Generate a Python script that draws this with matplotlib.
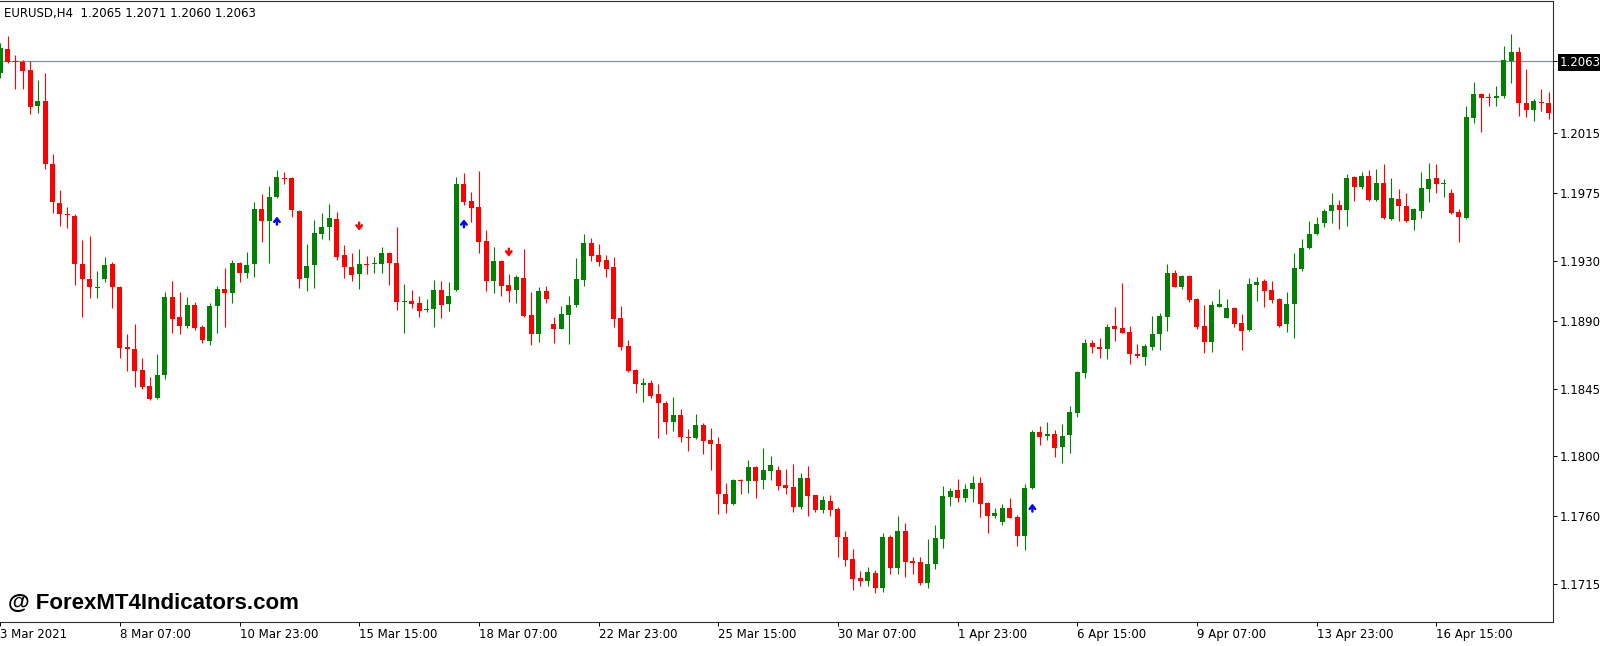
import matplotlib
matplotlib.use('Agg')
import matplotlib.pyplot as plt
import numpy as np

# EURUSD H4 candles (oldest first)
opens = [
    1.20548, 1.20710, 1.20626, 1.20626, 1.20570, 1.20331, 1.20364, 1.19945,
    1.19685, 1.19612, 1.19601, 1.19279, 1.19182, 1.19122, 1.19180, 1.19277,
    1.19126, 1.18727, 1.18714, 1.18574, 1.18468, 1.18388, 1.18543, 1.19060,
    1.18929, 1.18867, 1.19006, 1.18860, 1.18767, 1.19000, 1.19111, 1.19084,
    1.19284, 1.19222, 1.19277, 1.19643, 1.19568, 1.19727, 1.19851, 1.19854,
    1.19634, 1.19184, 1.19273, 1.19477, 1.19528, 1.19579, 1.19337, 1.19261,
    1.19210, 1.19279, 1.19277, 1.19277, 1.19355, 1.19288, 1.19026, 1.19033,
    1.19018, 1.18975, 1.18980, 1.19106, 1.19011, 1.19104, 1.19812, 1.19698,
    1.19656, 1.19432, 1.19168, 1.19299, 1.19140, 1.19104, 1.19188, 1.18940,
    1.18814, 1.19100, 1.18878, 1.18849, 1.18940, 1.19004, 1.19173, 1.19421,
    1.19339, 1.19306, 1.19257, 1.18918, 1.18734, 1.18574, 1.18476, 1.18490,
    1.18414, 1.18357, 1.18226, 1.18275, 1.18126, 1.18119, 1.18208, 1.18108,
    1.18081, 1.17747, 1.17682, 1.17842, 1.17835, 1.17926, 1.17842, 1.17904,
    1.17909, 1.17809, 1.17793, 1.17665, 1.17857, 1.17740, 1.17642, 1.17704,
    1.17649, 1.17465, 1.17316, 1.17190, 1.17172, 1.17221, 1.17123, 1.17465,
    1.17259, 1.17503, 1.17303, 1.17294, 1.17154, 1.17283, 1.17449, 1.17731,
    1.17775, 1.17720, 1.17780, 1.17820, 1.17687, 1.17605, 1.17565, 1.17653,
    1.17598, 1.17469, 1.17787, 1.18159, 1.18137, 1.18146, 1.18059, 1.18141,
    1.18290, 1.18556, 1.18751, 1.18725, 1.18714, 1.18867, 1.18851, 1.18829,
    1.18678, 1.18663, 1.18729, 1.18813, 1.18924, 1.19217, 1.19128, 1.19199,
    1.19046, 1.18867, 1.18762, 1.18995, 1.18922, 1.18984, 1.18884, 1.18840,
    1.19139, 1.19166, 1.19106, 1.19046, 1.18880, 1.19011, 1.19246, 1.19384,
    1.19479, 1.19550, 1.19634, 1.19672, 1.19639, 1.19860, 1.19794, 1.19867,
    1.19705, 1.19816, 1.19579, 1.19710, 1.19667, 1.19572, 1.19634, 1.19778,
    1.19849, 1.19809, 1.19750, 1.19628, 1.19583, 1.20253, 1.20408, 1.20388,
    1.20382, 1.20397, 1.20632, 1.20692, 1.20353, 1.20304, 1.20357, 1.20353,
]
highs = [
    1.20750, 1.20796, 1.20670, 1.20637, 1.20632, 1.20504, 1.20548, 1.20011,
    1.19772, 1.19656, 1.19612, 1.19439, 1.19468, 1.19233, 1.19326, 1.19290,
    1.19133, 1.18811, 1.18880, 1.18652, 1.18530, 1.18681, 1.19095, 1.19166,
    1.19095, 1.19060, 1.19029, 1.18873, 1.19018, 1.19133, 1.19250, 1.19306,
    1.19295, 1.19357, 1.19694, 1.19745, 1.19798, 1.19905, 1.19889, 1.19856,
    1.19638, 1.19410, 1.19572, 1.19621, 1.19678, 1.19627, 1.19403, 1.19350,
    1.19377, 1.19332, 1.19324, 1.19392, 1.19361, 1.19528, 1.19146, 1.19106,
    1.19066, 1.19044, 1.19173, 1.19166, 1.19157, 1.19860, 1.19887, 1.19756,
    1.19898, 1.19506, 1.19390, 1.19306, 1.19213, 1.19206, 1.19377, 1.19095,
    1.19128, 1.19133, 1.18929, 1.19002, 1.19066, 1.19321, 1.19477, 1.19450,
    1.19412, 1.19339, 1.19328, 1.19002, 1.18774, 1.18578, 1.18523, 1.18507,
    1.18481, 1.18368, 1.18394, 1.18312, 1.18179, 1.18281, 1.18224, 1.18186,
    1.18130, 1.17820, 1.17851, 1.17846, 1.17975, 1.17935, 1.18057, 1.18002,
    1.17937, 1.17913, 1.17946, 1.17891, 1.17935, 1.17744, 1.17735, 1.17742,
    1.17660, 1.17503, 1.17381, 1.17236, 1.17265, 1.17243, 1.17487, 1.17476,
    1.17602, 1.17554, 1.17332, 1.17332, 1.17449, 1.17543, 1.17802, 1.17786,
    1.17846, 1.17813, 1.17869, 1.17864, 1.17693, 1.17653, 1.17682, 1.17720,
    1.17609, 1.17815, 1.18175, 1.18201, 1.18226, 1.18175, 1.18215, 1.18337,
    1.18569, 1.18780, 1.18774, 1.18785, 1.18880, 1.18991, 1.19151, 1.18869,
    1.18745, 1.18745, 1.18933, 1.18951, 1.19277, 1.19239, 1.19204, 1.19204,
    1.19051, 1.19006, 1.19035, 1.19111, 1.19044, 1.18995, 1.18944, 1.19188,
    1.19195, 1.19177, 1.19166, 1.19051, 1.19095, 1.19350, 1.19443, 1.19568,
    1.19594, 1.19643, 1.19749, 1.19705, 1.19876, 1.19867, 1.19894, 1.19905,
    1.19911, 1.19942, 1.19849, 1.19776, 1.19754, 1.19650, 1.19894, 1.19953,
    1.19942, 1.19843, 1.19776, 1.19645, 1.20331, 1.20488, 1.20415, 1.20415,
    1.20464, 1.20727, 1.20808, 1.20721, 1.20575, 1.20375, 1.20441, 1.20426,
]
lows = [
    1.20520, 1.20619, 1.20442, 1.20442, 1.20275, 1.20282, 1.19909, 1.19621,
    1.19534, 1.19521, 1.19140, 1.18929, 1.19055, 1.19055, 1.19160, 1.18984,
    1.18656, 1.18569, 1.18459, 1.18445, 1.18374, 1.18383, 1.18512, 1.18822,
    1.18814, 1.18856, 1.18840, 1.18754, 1.18740, 1.18818, 1.18862, 1.19018,
    1.19162, 1.19188, 1.19190, 1.19428, 1.19284, 1.19716, 1.19809, 1.19594,
    1.19117, 1.19097, 1.19117, 1.19443, 1.19439, 1.19306, 1.19184, 1.19166,
    1.19111, 1.19213, 1.19222, 1.19222, 1.19139, 1.18973, 1.18822, 1.18984,
    1.18929, 1.18962, 1.18862, 1.18918, 1.18967, 1.19100, 1.19672, 1.19557,
    1.19355, 1.19102, 1.19084, 1.19066, 1.19029, 1.19022, 1.18929, 1.18740,
    1.18762, 1.19022, 1.18751, 1.18845, 1.18745, 1.18995, 1.19135, 1.19301,
    1.19266, 1.19195, 1.18862, 1.18707, 1.18558, 1.18423, 1.18363, 1.18390,
    1.18119, 1.18146, 1.18170, 1.18097, 1.18037, 1.18113, 1.18015, 1.17908,
    1.17616, 1.17620, 1.17676, 1.17749, 1.17753, 1.17720, 1.17780, 1.17842,
    1.17775, 1.17749, 1.17631, 1.17647, 1.17605, 1.17631, 1.17625, 1.17605,
    1.17332, 1.17272, 1.17110, 1.17137, 1.17137, 1.17090, 1.17097, 1.17214,
    1.17214, 1.17194, 1.17214, 1.17143, 1.17121, 1.17248, 1.17387, 1.17669,
    1.17698, 1.17693, 1.17693, 1.17594, 1.17487, 1.17591, 1.17543, 1.17587,
    1.17405, 1.17376, 1.17780, 1.18075, 1.18108, 1.17997, 1.17953, 1.18020,
    1.18263, 1.18518, 1.18689, 1.18656, 1.18645, 1.18769, 1.18818, 1.18612,
    1.18656, 1.18607, 1.18707, 1.18707, 1.18836, 1.19124, 1.19111, 1.19029,
    1.18845, 1.18685, 1.18696, 1.18991, 1.18918, 1.18862, 1.18707, 1.18836,
    1.19035, 1.18991, 1.19022, 1.18862, 1.18829, 1.18785, 1.19235, 1.19379,
    1.19474, 1.19528, 1.19554, 1.19514, 1.19532, 1.19701, 1.19776, 1.19701,
    1.19701, 1.19579, 1.19572, 1.19568, 1.19561, 1.19505, 1.19583, 1.19694,
    1.19750, 1.19727, 1.19612, 1.19428, 1.19579, 1.20220, 1.20155, 1.20331,
    1.20331, 1.20382, 1.20486, 1.20264, 1.20260, 1.20231, 1.20300, 1.20244,
]
closes = [
    1.20714, 1.20626, 1.20623, 1.20566, 1.20322, 1.20366, 1.19945, 1.19694,
    1.19610, 1.19603, 1.19277, 1.19180, 1.19124, 1.19126, 1.19275, 1.19124,
    1.18718, 1.18711, 1.18569, 1.18463, 1.18381, 1.18541, 1.19060, 1.18916,
    1.18867, 1.19006, 1.18851, 1.18774, 1.19002, 1.19111, 1.19084, 1.19284,
    1.19222, 1.19273, 1.19643, 1.19568, 1.19727, 1.19860, 1.19845, 1.19638,
    1.19179, 1.19268, 1.19483, 1.19523, 1.19583, 1.19328, 1.19259, 1.19206,
    1.19279, 1.19273, 1.19281, 1.19355, 1.19284, 1.19029, 1.19031, 1.19011,
    1.18969, 1.18982, 1.19106, 1.19009, 1.19066, 1.19812, 1.19694, 1.19650,
    1.19428, 1.19168, 1.19299, 1.19133, 1.19100, 1.19191, 1.18933, 1.18814,
    1.19100, 1.19046, 1.18849, 1.18947, 1.19006, 1.19177, 1.19421, 1.19335,
    1.19295, 1.19248, 1.18911, 1.18729, 1.18567, 1.18481, 1.18485, 1.18403,
    1.18352, 1.18226, 1.18275, 1.18126, 1.18119, 1.18206, 1.18104, 1.18084,
    1.17749, 1.17680, 1.17840, 1.17835, 1.17926, 1.17835, 1.17908, 1.17940,
    1.17804, 1.17791, 1.17665, 1.17857, 1.17735, 1.17642, 1.17709, 1.17642,
    1.17460, 1.17310, 1.17181, 1.17172, 1.17228, 1.17123, 1.17465, 1.17259,
    1.17503, 1.17299, 1.17292, 1.17154, 1.17281, 1.17454, 1.17735, 1.17769,
    1.17720, 1.17780, 1.17820, 1.17682, 1.17605, 1.17620, 1.17653, 1.17591,
    1.17472, 1.17787, 1.18164, 1.18130, 1.18146, 1.18053, 1.18137, 1.18292,
    1.18563, 1.18751, 1.18725, 1.18711, 1.18862, 1.18849, 1.18822, 1.18680,
    1.18667, 1.18734, 1.18813, 1.18933, 1.19217, 1.19128, 1.19199, 1.19040,
    1.18862, 1.18762, 1.19006, 1.19013, 1.18984, 1.18880, 1.18836, 1.19146,
    1.19162, 1.19102, 1.19040, 1.18869, 1.19013, 1.19250, 1.19384, 1.19479,
    1.19545, 1.19634, 1.19672, 1.19638, 1.19854, 1.19794, 1.19867, 1.19705,
    1.19816, 1.19588, 1.19716, 1.19667, 1.19568, 1.19643, 1.19787, 1.19843,
    1.19812, 1.19816, 1.19616, 1.19590, 1.20255, 1.20408, 1.20386, 1.20382,
    1.20397, 1.20637, 1.20692, 1.20348, 1.20304, 1.20364, 1.20350, 1.20282,
]

# one time label every 16 bars
time_labels = ['3 Mar 2021', '8 Mar 07:00', '10 Mar 23:00', '15 Mar 15:00',
               '18 Mar 07:00', '22 Mar 23:00', '25 Mar 15:00', '30 Mar 07:00',
               '1 Apr 23:00', '6 Apr 15:00', '9 Apr 07:00', '13 Apr 23:00',
               '16 Apr 15:00']
price_ticks = [1.2015, 1.1975, 1.1930, 1.1890, 1.1845, 1.1800, 1.1760, 1.1715]
bid = 1.2063

# indicator arrows (bar index, price)
up_bars = [37, 62, 138]
up_prices = [1.19568, 1.19550, 1.17658]
down_bars = [48, 68]
down_prices = [1.19528, 1.19355]

header = 'EURUSD,H4  1.2065 1.2071 1.2060 1.2063'
watermark = '@ ForexMT4Indicators.com'

W, H = 1600, 646
px_price = 0.00006654   # price per pixel
bar_px = 7.48           # pixel spacing of bars

fig = plt.figure(figsize=(W / 100, H / 100), dpi=100)
fig.patch.set_facecolor('white')
ax = fig.add_axes([0, 1 - 622 / H, 1552.7 / W, 621 / H])

o = np.array(opens)
h = np.array(highs)
l = np.array(lows)
c = np.array(closes)
x = np.arange(len(o))

bull = c > o
colors = np.where(bull, '#008000', '#ff0000')
body_low = np.minimum(o, c)
body_h = np.maximum(np.abs(c - o), px_price)

ax.axhline(bid, color='#8592a3', lw=0.9, zorder=1)
ax.vlines(x, l, h, colors=colors, lw=0.8, zorder=2)
ax.bar(x, body_h, bottom=body_low, width=0.67, color=colors, linewidth=0, zorder=3)

# small bold arrows, about 8 px tall
half = 4 * px_price
arrow_style = '->, head_length=0.25, head_width=0.2'
for i, p in zip(up_bars, up_prices):
    ax.annotate('', xy=(i, p + half), xytext=(i, p - half),
                arrowprops=dict(arrowstyle=arrow_style, color='#0000ff', lw=1.7,
                                shrinkA=0, shrinkB=0), zorder=4)
for i, p in zip(down_bars, down_prices):
    ax.annotate('', xy=(i, p - half), xytext=(i, p + half),
                arrowprops=dict(arrowstyle=arrow_style, color='#ff0000', lw=1.7,
                                shrinkA=0, shrinkB=0), zorder=4)

ax.set_xlim(-0.02, -0.02 + 1552.7 / bar_px)
ax.set_ylim(bid - (622 - 61) * px_price, bid + (61 - 1) * px_price)

for side in ['top', 'right', 'bottom']:
    ax.spines[side].set_color('#303030')
    ax.spines[side].set_linewidth(0.8)
ax.spines['left'].set_visible(False)

ax.set_xticks(range(0, 16 * len(time_labels), 16))
ax.set_xticklabels(time_labels, ha='left', fontsize=8.5)
ax.tick_params(axis='x', direction='out', length=3, width=0.7, pad=1.5)

ax.yaxis.tick_right()
ax.set_yticks(price_ticks + [bid])
ax.set_yticklabels([f'{p:.4f}' for p in price_ticks + [bid]], fontsize=8.5)
ax.tick_params(axis='y', direction='out', length=3, width=0.7, pad=2)
for lab in ax.get_yticklabels():
    if lab.get_text() == f'{bid:.4f}':
        lab.set_color('white')
        lab.set_bbox(dict(facecolor='black', edgecolor='none', pad=1.5))

fig.text(4 / W, 1 - 13.5 / H, header, fontsize=8.5, va='center', ha='left')
fig.text(8 / W, 1 - 603 / H, watermark, fontsize=16, fontweight='bold',
         family=['Liberation Sans', 'DejaVu Sans'], va='center', ha='left')

fig.savefig('out.png', dpi=100)
